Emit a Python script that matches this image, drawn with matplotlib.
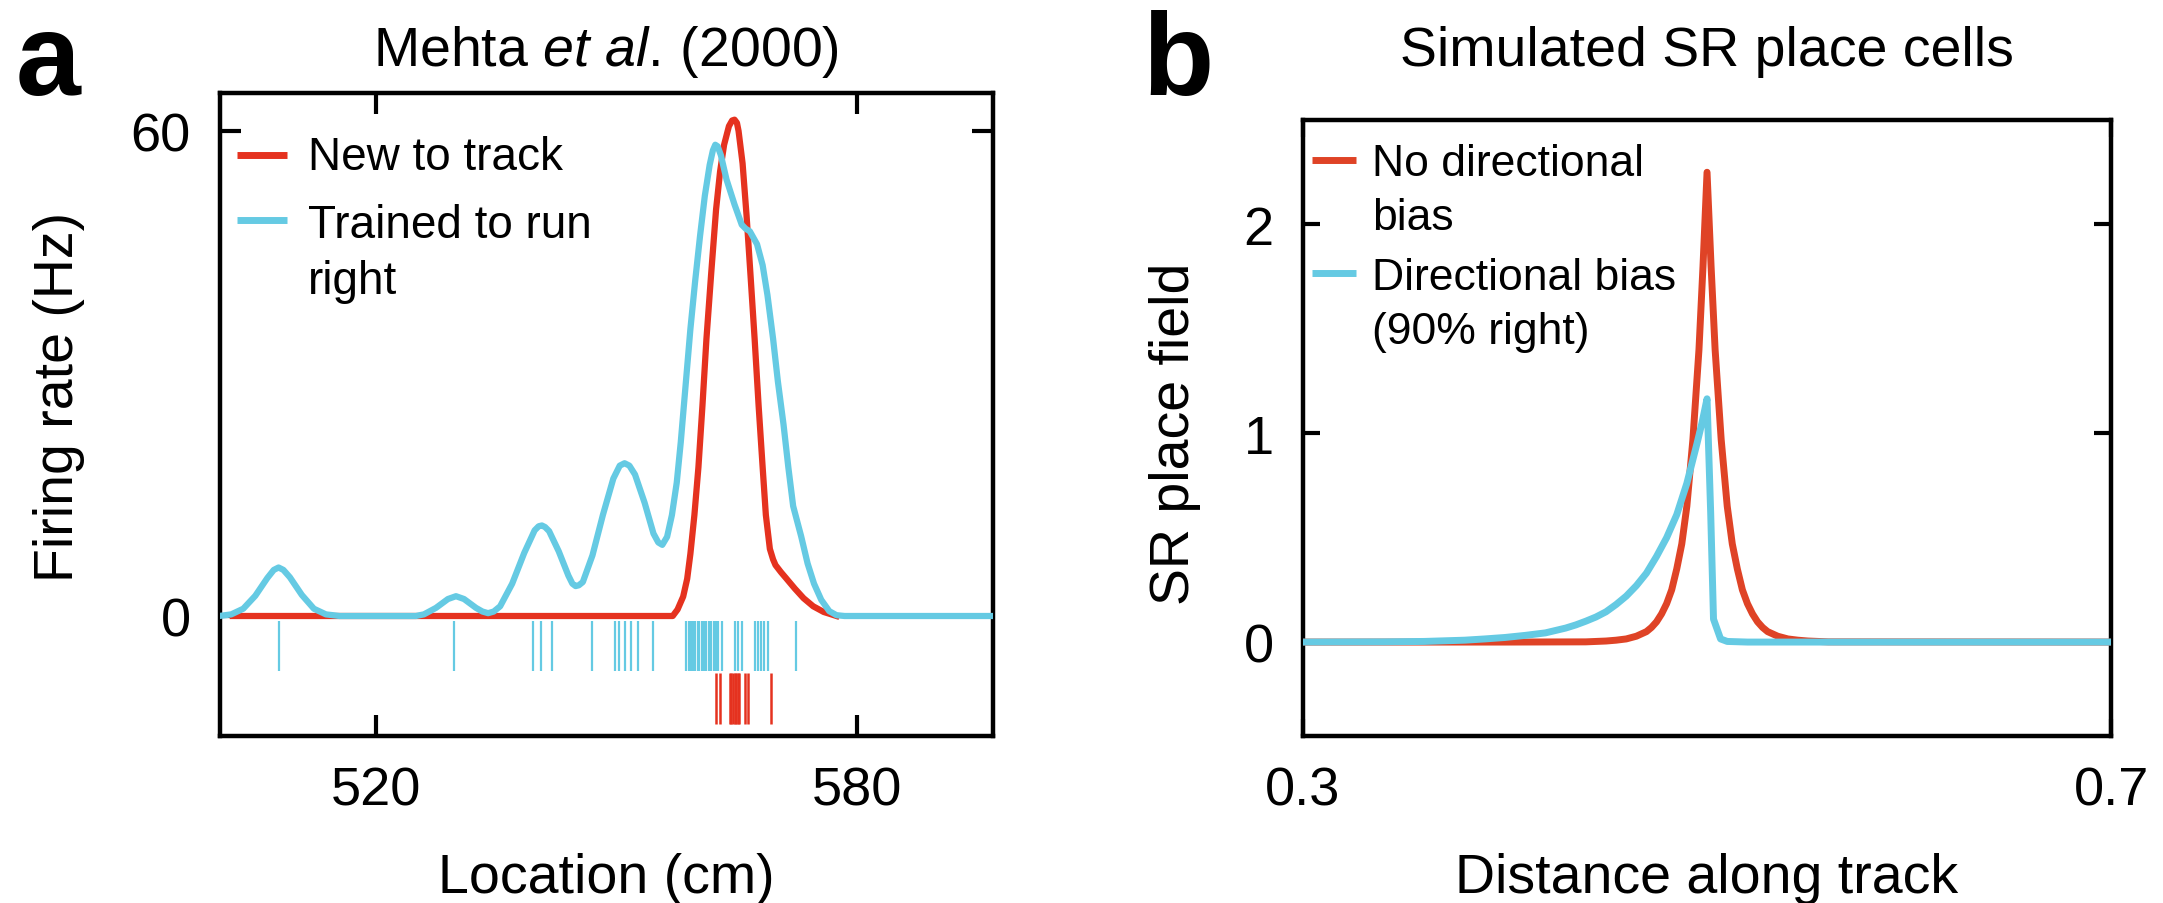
import matplotlib
matplotlib.use("Agg")
import matplotlib.pyplot as plt

plt.rcParams['font.family'] = 'Liberation Sans'
plt.rcParams['mathtext.fontset'] = 'custom'
plt.rcParams['mathtext.rm'] = 'Liberation Sans'
plt.rcParams['mathtext.it'] = 'Liberation Sans:italic'

# ---- panel a data (Mehta et al. 2000) ----
new_x = [502.2, 510.0, 520.0, 530.0, 540.0, 550.0, 557.0, 557.6, 558.3, 558.8, 559.2, 559.7,
         560.2, 560.7, 561.2, 561.8, 562.4, 562.9, 563.4, 564.0, 564.4, 564.7, 565.0, 565.2,
         565.7, 566.2, 566.7, 567.2, 567.7, 568.2, 568.6, 569.1, 569.5, 569.8, 570.5, 571.1,
         572.2, 573.3, 574.5, 575.8, 577.4]
new_y = [0.0, 0.0, 0.0, 0.0, 0.0, 0.0, 0.0, 0.8, 2.4, 4.6, 7.7, 12.5,
         18.4, 26.0, 34.3, 42.5, 50.3, 55.0, 58.3, 60.6, 61.3, 61.4, 61.0, 60.0,
         56.0, 49.5, 42.0, 34.3, 26.0, 18.4, 12.5, 8.3, 7.0, 6.3, 5.4, 4.7,
         3.4, 2.2, 1.2, 0.5, 0.0]

trained_x = [500.5, 502.0, 503.5, 505.0, 506.5, 507.3, 507.9, 508.5, 509.3, 510.8, 512.3, 513.8,
             515.5, 525.0, 526.0, 527.5, 529.0, 530.0, 531.0, 532.5, 533.3, 534.0, 534.7,
             535.5, 537.0, 538.5, 539.8, 540.3, 540.7, 541.1, 541.6, 542.8, 544.0, 544.5,
             544.9, 545.3, 545.8, 547.0, 548.3, 549.6, 550.4, 551.0, 551.6, 552.3, 553.5,
             554.6, 555.2, 555.7, 556.3, 556.9, 557.5, 558.0, 558.6, 559.2, 559.8, 560.4,
             561.0, 561.6, 562.0, 562.3, 562.6, 563.0, 563.7, 564.7, 565.6, 566.1, 566.6,
             567.5, 568.2, 568.8, 569.5, 570.1, 570.8, 571.4, 572.0, 573.0, 573.8, 574.6,
             575.5, 576.5, 577.4, 578.4, 597.0]
trained_y = [0.0, 0.2, 0.9, 2.5, 4.7, 5.7, 6.0, 5.7, 4.8, 2.6, 0.9, 0.2,
             0.0, 0.0, 0.2, 1.0, 2.1, 2.45, 2.1, 1.0, 0.55, 0.35, 0.55,
             1.2, 4.0, 7.8, 10.6, 11.1, 11.2, 11.0, 10.5, 8.0, 5.0, 4.0,
             3.7, 3.8, 4.2, 7.5, 12.5, 17.0, 18.6, 18.9, 18.6, 17.5, 14.0,
             10.2, 9.1, 8.8, 9.8, 12.5, 16.5, 21.5, 28.5, 35.5, 41.5, 47.0,
             52.0, 55.8, 57.6, 58.3, 58.1, 57.0, 54.0, 50.9, 48.4, 47.9, 47.6,
             46.0, 43.4, 39.7, 34.3, 29.0, 23.7, 18.4, 13.6, 9.85, 6.5, 4.0,
             2.0, 0.6, 0.1, 0.0, 0.0]

# spike rasters
trained_spikes = [507.9, 529.8, 539.6, 540.6, 541.9, 547.0, 549.8, 550.3, 551.0, 551.8,
                  552.7, 554.5, 558.7, 559.0, 559.3, 559.5, 559.8, 560.1, 560.3, 560.6,
                  560.9, 561.2, 561.5, 561.8, 562.1, 562.4, 562.7, 563.1, 564.7, 565.1,
                  565.6, 567.2, 567.6, 568.0, 568.4, 568.9, 572.4]
new_spikes = [562.4, 562.9, 564.1, 564.3, 564.5, 564.7, 564.9, 565.1, 565.3, 566.0,
              566.4, 569.3]

# ---- panel b data (simulated SR place fields) ----
nobias_x = [0.30, 0.40, 0.44, 0.45, 0.455, 0.46, 0.465, 0.47, 0.4725, 0.475, 0.4775, 0.48,
            0.4825, 0.485, 0.4875, 0.49, 0.493, 0.496, 0.498, 0.50, 0.502, 0.504, 0.507,
            0.51, 0.5125, 0.515, 0.5175, 0.52, 0.5225, 0.525, 0.5275, 0.53, 0.535, 0.54,
            0.545, 0.55, 0.56, 0.70]
nobias_y = [0.0, 0.0, 0.001, 0.005, 0.009, 0.015, 0.028, 0.05, 0.07, 0.097, 0.135, 0.184,
            0.25, 0.35, 0.47, 0.65, 0.97, 1.4, 1.8, 2.25, 1.8, 1.4, 0.97,
            0.65, 0.47, 0.35, 0.25, 0.184, 0.135, 0.097, 0.07, 0.05, 0.028, 0.015,
            0.009, 0.005, 0.001, 0.0]

bias_x = [0.30, 0.34, 0.36, 0.38, 0.39, 0.40, 0.41, 0.42, 0.43, 0.435, 0.44, 0.445, 0.45,
          0.455, 0.46, 0.465, 0.47, 0.475, 0.48, 0.485, 0.49, 0.495, 0.4975, 0.50, 0.5018,
          0.5032, 0.5067, 0.51, 0.52, 0.70]
bias_y = [0.0, 0.001, 0.003, 0.009, 0.015, 0.022, 0.032, 0.044, 0.067, 0.082, 0.10, 0.12,
          0.145, 0.18, 0.22, 0.27, 0.33, 0.41, 0.50, 0.61, 0.76, 0.95, 1.05, 1.165, 0.62,
          0.11, 0.015, 0.003, 0.0, 0.0]

red_a = '#E5321F'
red_b = '#DF4326'
cyan = '#65CAE3'

fig = plt.figure(figsize=(21.63, 9.04), dpi=100)
ax1 = fig.add_axes([0.1017, 0.1847, 0.3574, 0.7113])
ax2 = fig.add_axes([0.6024, 0.1847, 0.3736, 0.6814])

# panel a
ax1.vlines(trained_spikes, -6.8, -0.6, color=cyan, lw=1.6)
ax1.vlines(new_spikes, -13.4, -7.0, color=red_a, lw=1.8)
ax1.plot(new_x, new_y, color=red_a, lw=4.5, solid_joinstyle='round', zorder=3)
ax1.plot(trained_x, trained_y, color=cyan, lw=4.5, solid_joinstyle='round', zorder=4)
ax1.set_xlim(500.6, 596.9)
ax1.set_ylim(-14.85, 64.7)
ax1.set_xticks([520, 580])
ax1.set_yticks([0, 60])
ax1.tick_params(direction='in', top=True, right=True, length=15, width=3, pad=21,
                labelsize=39)

# legend a
ax1.plot([0.022, 0.087], [0.9036, 0.9036], transform=ax1.transAxes, color=red_a, lw=5,
         solid_capstyle='butt')
ax1.plot([0.022, 0.087], [0.8025, 0.8025], transform=ax1.transAxes, color=cyan, lw=5,
         solid_capstyle='butt')
ax1.text(0.114, (737 - 170) / 643, 'New to track', transform=ax1.transAxes, fontsize=33,
         va='baseline')
ax1.text(0.114, (737 - 237.5) / 643, 'Trained to run', transform=ax1.transAxes, fontsize=33,
         va='baseline')
ax1.text(0.114, (737 - 294) / 643, 'right', transform=ax1.transAxes, fontsize=33,
         va='baseline')

# panel b
ax2.plot(nobias_x, nobias_y, color=red_b, lw=5, solid_joinstyle='round', zorder=3)
ax2.plot(bias_x, bias_y, color=cyan, lw=5, solid_joinstyle='round', zorder=4)
ax2.set_xlim(0.3, 0.7)
ax2.set_ylim(-0.45, 2.5)
ax2.set_xticks([0.3, 0.7])
ax2.set_xticklabels(['0.3', '0.7'])
ax2.set_yticks([0, 1, 2])
ax2.tick_params(direction='in', top=True, right=True, length=12, width=3, pad=21,
                labelsize=39)

# legend b
ax2.plot([0.011, 0.066], [0.935, 0.935], transform=ax2.transAxes, color=red_b, lw=5,
         solid_capstyle='butt')
ax2.plot([0.011, 0.066], [(737 - 274) / 616] * 2, transform=ax2.transAxes, color=cyan, lw=5,
         solid_capstyle='butt')
for txt, yb in [('No directional', 176), ('bias', 230), ('Directional bias', 290),
                ('(90% right)', 344)]:
    ax2.text(0.086, (737 - yb) / 616, txt, transform=ax2.transAxes, fontsize=32,
             va='baseline')

for ax in (ax1, ax2):
    for s in ax.spines.values():
        s.set_linewidth(3.2)

# titles, axis labels, panel letters
fig.text(606 / 2163, (904 - 66) / 904, r'Mehta $\mathit{et\ al.}\,$(2000)', fontsize=40,
         ha='center', va='baseline')
fig.text(1707 / 2163, (904 - 66) / 904, 'Simulated SR place cells', fontsize=40,
         ha='center', va='baseline')
fig.text(606 / 2163, (904 - 893) / 904, 'Location (cm)', fontsize=40, ha='center',
         va='baseline')
fig.text(1707 / 2163, (904 - 893) / 904, 'Distance along track', fontsize=40, ha='center',
         va='baseline')
fig.text(59 / 2163, (904 - 397) / 904, 'Firing rate (Hz)', fontsize=40, rotation=90,
         ha='center', va='center')
fig.text(1175 / 2163, (904 - 434) / 904, 'SR place field', fontsize=40, rotation=90,
         ha='center', va='center')
fig.text(16 / 2163, (904 - 95) / 904, 'a', fontsize=84, fontweight='bold', va='baseline')
fig.text(1142 / 2163, (904 - 95) / 904, 'b', fontsize=84, fontweight='bold', va='baseline')

fig.savefig('out.png', dpi=100)
